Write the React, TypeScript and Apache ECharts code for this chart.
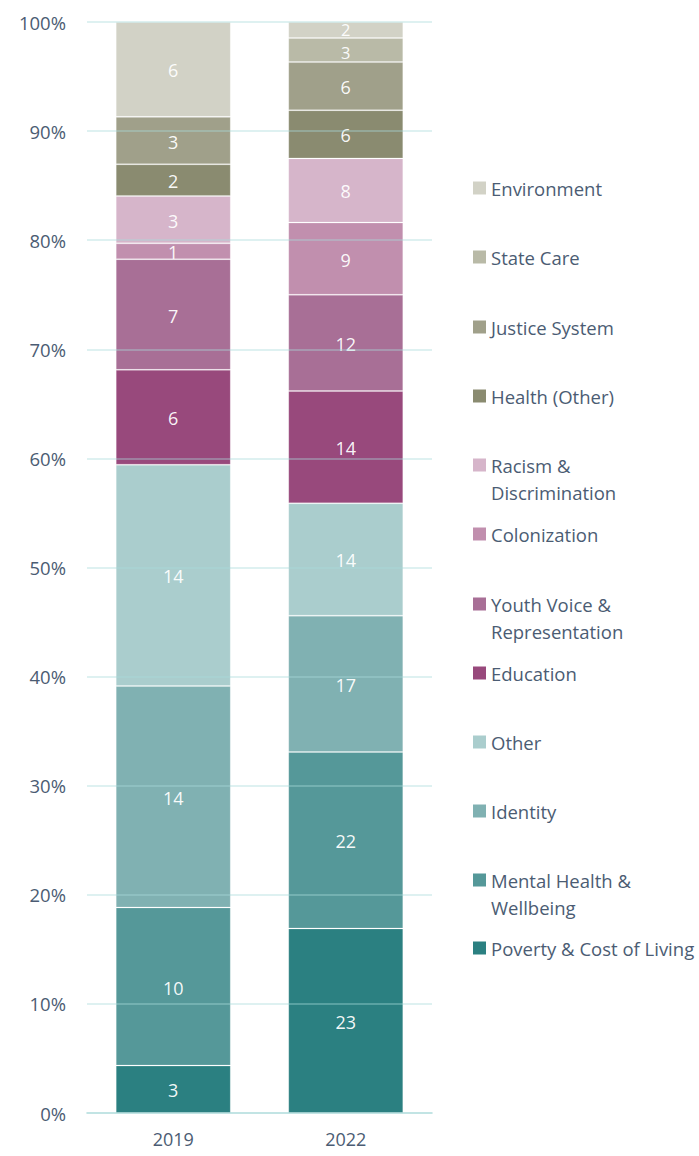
import React, { useEffect, useRef } from "react";
import * as echarts from "echarts";

const categories = ["2019", "2022"];
const seriesNames = [
  "Poverty & Cost of Living",
  "Mental Health & Wellbeing",
  "Identity",
  "Other",
  "Education",
  "Youth Voice & Representation",
  "Colonization",
  "Racism & Discrimination",
  "Health (Other)",
  "Justice System",
  "State Care",
  "Environment",
];
const legendLabels = [
  "Poverty & Cost of Living",
  "Mental Health &\nWellbeing",
  "Identity",
  "Other",
  "Education",
  "Youth Voice &\nRepresentation",
  "Colonization",
  "Racism &\nDiscrimination",
  "Health (Other)",
  "Justice System",
  "State Care",
  "Environment",
];
const counts2019 = [3, 10, 14, 14, 6, 7, 1, 3, 2, 3, 0, 6];
const counts2022 = [23, 22, 17, 14, 14, 12, 9, 8, 6, 6, 3, 2];
const colors = [
  "#2b8081",
  "#559899",
  "#80b1b2",
  "#aacdcd",
  "#98497c",
  "#a86f96",
  "#c18fae",
  "#d6b5ca",
  "#8a8b70",
  "#a0a08a",
  "#b9baa7",
  "#d2d2c6",
];

// legend first-line centers (layout)
const legendCenters = [948, 880, 811, 742, 673, 604, 534, 465, 396, 327, 257, 188];

const TEXT = "#4b5c73";
const FONT = "'Open Sans', 'Noto Sans', sans-serif";
const SQUARE = "path://M0,0L13,0L13,13L0,13Z";
const TALL = "path://M0,0L13,0L13,13L0,13Z M0,40L13,40";

export default function App() {
  const ref = useRef<HTMLDivElement>(null);
  useEffect(() => {
    const chart = echarts.init(ref.current!, null, { renderer: "svg" });
    const allCounts = [counts2019, counts2022];
    const totals = allCounts.map((c) => c.reduce((a, b) => a + b, 0));
    const series = seriesNames.map((name, i) => ({
      name,
      type: "bar",
      stack: "total",
      barWidth: 115,
      data: allCounts.map((c, j) => {
        const pct = (c[i] / totals[j]) * 100;
        const item: any = { value: pct, count: c[i] };
        if (pct < 2.5 && c[i] > 0 && j === 1) {
          item.label = { fontSize: 16.5, offset: [0, i === 11 ? -1 : 2] };
        }
        return item;
      }),
      itemStyle: {
        color: colors[i],
        borderColor: "rgba(255,255,255,0.18)",
        borderWidth: 1,
      },
      label: {
        show: true,
        position: "inside",
        color: "rgba(255,255,255,0.95)",
        fontSize: 18,
        lineHeight: 15,
        offset: [0, 1],
        fontFamily: FONT,
        formatter: (p: any) => (p.data.count ? String(p.data.count) : ""),
      },
    }));
    const legends = seriesNames.map((name, i) => {
      const two = legendLabels[i].includes("\n");
      return {
        data: [name],
        orient: "vertical",
        left: 473,
        top: legendCenters[i] - 13.5,
        padding: 0,
        icon: two ? TALL : SQUARE,
        itemWidth: 13,
        itemHeight: two ? 40 : 13,
        itemStyle: { borderWidth: 0 },
        selectedMode: false,
        formatter: () => legendLabels[i],
        textStyle: {
          color: TEXT,
          fontSize: 18.5,
          lineHeight: 27,
          fontFamily: FONT,
        },
      };
    });
    chart.setOption({
      animation: false,
      color: colors,
      grid: { left: 87, right: 267, top: 22, bottom: 43, containLabel: false },
      legend: legends,
      xAxis: {
        type: "category",
        data: categories,
        axisLine: { show: true, lineStyle: { color: "#d3ebeb", width: 2 } },
        axisTick: { show: false },
        axisLabel: { color: TEXT, fontSize: 18, fontFamily: FONT, margin: 17 },
      },
      yAxis: {
        type: "value",
        min: 0,
        max: 100,
        interval: 10,
        z: 5,
        axisLine: { show: false },
        axisTick: { show: false },
        axisLabel: {
          color: TEXT,
          fontSize: 18.5,
          fontFamily: FONT,
          margin: 21,
          formatter: "{value}%",
        },
        splitLine: { lineStyle: { color: "rgba(170,220,220,0.5)", width: 1.5 } },
      },
      series,
    });
    return () => chart.dispose();
  }, []);
  return <div ref={ref} style={{ width: 699, height: 1156, position: "absolute", left: 0, top: 0 }} />;
}
